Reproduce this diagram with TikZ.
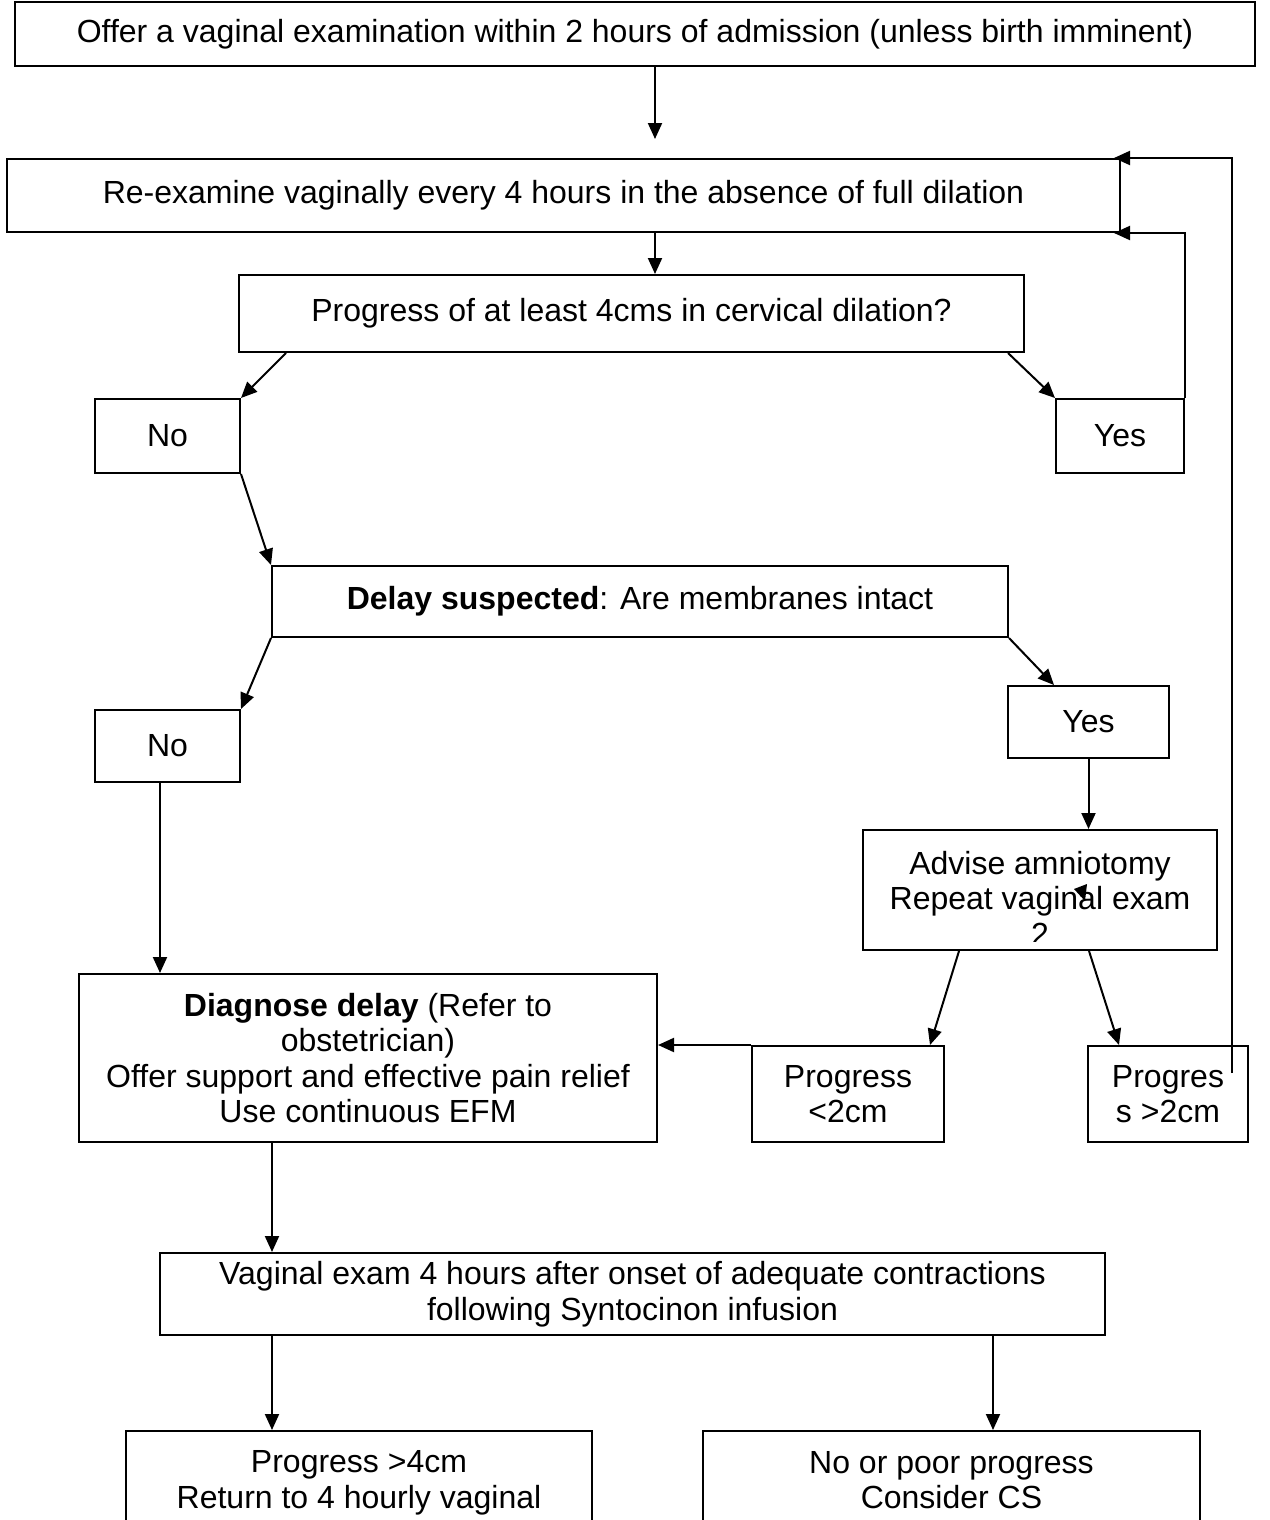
\documentclass[tikz,border=0pt]{standalone}
\usepackage{fontspec}
\setmainfont{Liberation Sans}
\usetikzlibrary{arrows.meta,calc}
\newcommand{\flowfont}{\fontsize{32}{35.5}\selectfont}

\begin{document}
\begin{tikzpicture}[font=\flowfont,x=1pt,y=-1pt,
    >={Triangle[length=16pt,width=14pt]},
    box/.style={draw,line width=2pt,align=center,inner sep=0pt},
    arr/.style={->,line width=2pt}]
  \useasboundingbox (0,0) rectangle (1269,1520);
  \clip (0,0) rectangle (1269,1520);
  % helper x positions for the straight arrows
  \coordinate (va) at (655,0);
  \coordinate (vb) at (160,0);
  \coordinate (vc) at (272,0);
  \coordinate (vd) at (993,0);
  \coordinate (loopend) at (1232,1073);

  % boxes
  \node[box,minimum width=1240,minimum height=64] (offer) at (635,34)
    {Offer a vaginal examination within 2 hours of admission (unless birth imminent)};
  \node[box,minimum width=1113,minimum height=73] (reexam) at (563.5,195.5)
    {Re-examine vaginally every 4 hours in the absence of full dilation};
  \node[box,minimum width=785,minimum height=77] (progq) at (631.5,313.5)
    {Progress of at least 4cms in cervical dilation?};
  \node[box,minimum width=145,minimum height=74] (noA) at (167.5,436) {No};
  \node[box,minimum width=128,minimum height=74] (yesA) at (1120,436) {Yes};
  \node[box,minimum width=736,minimum height=71] (delay) at (640,601.5)
    {\textbf{Delay suspected}: Are membranes intact};
  \node[box,minimum width=145,minimum height=72] (noB) at (167.5,746) {No};
  \node[box,minimum width=161,minimum height=72] (yesB) at (1088.5,722) {Yes};
  \node[box,minimum width=354,minimum height=120] (advise) at (1040,890) {};
  \begin{scope}
    \clip (advise.north west) rectangle ([yshift=10pt]advise.south east);
    \node[align=center] (advisetxt) at (1040,898)
      {Advise amniotomy\\Repeat vaginal exam\\2};
  \end{scope}
  \fill (1074,889) -- (1087,884) -- (1085,901) -- cycle;
  \node[box,minimum width=578,minimum height=168] (diag) at (368,1058)
    {\textbf{Diagnose delay} (Refer to\\obstetrician)\\Offer support and effective pain relief\\Use continuous EFM};
  \node[box,minimum width=192,minimum height=96] (lessA) at (848,1094)
    {Progress\\<2cm};
  \node[box,minimum width=160,minimum height=96] (moreA) at (1168,1094)
    {Progres\\s >2cm};
  \node[box,minimum width=945,minimum height=82] (vexam) at (632.5,1294)
    {Vaginal exam 4 hours after onset of adequate contractions\\following Syntocinon infusion};
  \node[box,minimum width=466,minimum height=104] (okbox) at (359,1483)
    {Progress >4cm\\Return to 4 hourly vaginal};
  \node[box,minimum width=497,minimum height=98] (csbox) at (951.5,1480)
    {No or poor progress\\Consider CS};

  % connectors
  \draw[arr,shorten >=19pt] (offer.south -| va) -- (reexam.north -| va);
  \draw[arr] (reexam.south -| va) -- (progq.north -| va);
  \draw[arr] ([xshift=48pt]progq.south west) -- (noA.north east);
  \draw[arr] ([xshift=-17pt]progq.south east) -- (yesA.north west);
  \draw[arr] (noA.south east) -- (delay.north west);
  \draw[arr] (delay.south west) -- (noB.north east);
  \draw[arr] (delay.south east) -- ([xshift=47pt]yesB.north west);
  \draw[arr] (yesB.south) -- (yesB.south |- advise.north);
  \draw[arr] (noB.south -| vb) -- (diag.north -| vb);
  \draw[arr] ([xshift=97pt]advise.south west) -- ([xshift=-15pt]lessA.north east);
  \draw[arr] ([xshift=49pt]advise.south) -- ([xshift=32pt]moreA.north west);
  \draw[arr] (lessA.north west) -- (lessA.north west -| diag.east);
  \draw[arr] (diag.south -| vc) -- (vexam.north -| vc);
  \draw[arr] (vexam.south -| vc) -- (okbox.north -| vc);
  \draw[arr] (vexam.south -| vd) -- (csbox.north -| vd);
  % loops back to re-examination
  \draw[arr,shorten >=-7pt] (yesA.north east) |- (reexam.south east);
  \draw[arr,shorten >=-7pt] (loopend) |- (reexam.north east);
\end{tikzpicture}
\end{document}
